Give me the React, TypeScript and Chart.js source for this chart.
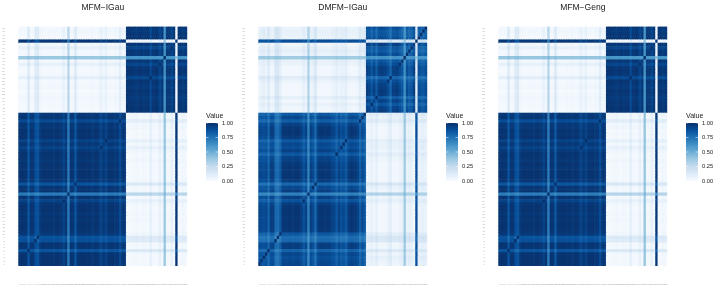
import React, { useEffect, useRef } from "react";
import { Chart, registerables } from "chart.js";

Chart.register(...registerables);

const FONT = "'Liberation Sans', Arial, sans-serif";

const sampleLabels = Array.from({ length: 72 }, (_, i) => String(i + 1));
const firstGroupSize = 46;
const legendTicks = [0, 0.25, 0.5, 0.75, 1];
const blues = ["#F7FBFF", "#DEEBF7", "#C6DBEF", "#9ECAE1", "#6BAED6", "#4292C6", "#2171B5", "#08519C", "#08306B"];

// Estimated share of each sample in the first group, read per row and column of the picture.
const mfmIGau = [
  .99, .995, .995, .99, .87, .99, .99, .89, .88, .975, .99, .995, .995, .985, .995, .98, .995, .995, .985, .935, .99, .72, .99, .985,
  .87, .985, .995, .995, .995, .99, .995, .975, .99, .995, .975, .935, .98, .935, .995, .99, .995, .975, .985, .91, .985, .975,
  .005, .005, .015, .015, .03, .015, .005, .03, .015, .005, .08, .015, .005, .015, .07, .015, .38, .02, .015, .07, .015, .985, .005, .015, .03, .015,
];
const dmfmIGau = [
  .93, .92, .9, .93, .82, .96, .96, .8, .78, .86, .98, .99, .99, .99, .98, .99, .99, .99, .965, .88, .95, .7, .955, .92,
  .8, .965, .99, .99, .98, .99, .98, .95, .94, .86, .95, .9, .92, .86, .965, .99, .99, .98, .95, .84, .92, .86,
  .03, .05, .12, .04, .14, .025, .015, .03, .04, .08, .18, .04, .03, .025, .08, .12, .36, .08, .14, .12, .03, .9, .08, .12, .13, .08,
];
const mfmGeng = [
  .99, .995, .995, .99, .87, .99, .99, .89, .87, .975, .99, .995, .995, .985, .995, .98, .995, .995, .985, .935, .99, .71, .99, .985,
  .86, .985, .995, .995, .995, .985, .995, .975, .99, .995, .97, .935, .98, .935, .995, .985, .995, .975, .98, .9, .985, .975,
  .005, .005, .015, .015, .03, .015, .005, .03, .015, .005, .09, .015, .005, .015, .07, .015, .39, .02, .015, .07, .015, .98, .005, .015, .03, .015,
];
// Tint each sample leaves in the other group's block on the DMFM panel, which is fainter than its share implies.
const dmfmLeak = [
  .03, .05, .07, .03, .12, .02, .02, .13, .14, .08, .01, .01, .01, .01, .01, .01, .01, .01, .02, .07, .03, .3, .03, .05,
  .14, .02, .01, .01, .01, .01, .01, .03, .04, .08, .03, .06, .05, .08, .02, .01, .01, .01, .03, .1, .05, .08,
  .02, .03, .06, .02, .08, .015, .01, .02, .02, .05, .1, .02, .02, .015, .05, .06, .36, .05, .08, .06, .02, .9, .05, .06, .07, .05,
];

const panelTitles = ["MFM\u2212IGau", "DMFM\u2212IGau", "MFM\u2212Geng"];
const panelShares = [mfmIGau, dmfmIGau, mfmGeng];
const panelLeaks = [mfmIGau.map((m, i) => (i < firstGroupSize ? 1 - m : m)), dmfmLeak, mfmGeng.map((m, i) => (i < firstGroupSize ? 1 - m : m))];

function hexToRgb(h: string) {
  return [1, 3, 5].map((i) => parseInt(h.slice(i, i + 2), 16));
}
function fillFor(v: number) {
  const p = Math.min(0.9999, Math.max(0, v)) * (blues.length - 1);
  const i = Math.floor(p);
  const a = hexToRgb(blues[i]);
  const b = hexToRgb(blues[i + 1]);
  const c = a.map((x, k) => Math.round(x + (b[k] - x) * (p - i)));
  return `rgb(${c[0]},${c[1]},${c[2]})`;
}

function cellValue(share: number[], leak: number[], r: number, c: number) {
  const a = share[r];
  const b = share[c];
  if (r === c) {
    const settled = a >= 0.94 || a <= 0.06;
    return settled ? a * a + (1 - a) * (1 - a) : 1;
  }
  if (r < firstGroupSize !== c < firstGroupSize) {
    return leak[r] + leak[c] - 2 * leak[r] * leak[c];
  }
  return a * b + (1 - a) * (1 - b);
}

function makePanel(canvas: HTMLCanvasElement, title: string, share: number[], leak: number[]) {
  const datasets = sampleLabels.map((_, r) => ({
    data: sampleLabels.map(() => [r, r + 1]),
    backgroundColor: sampleLabels.map((_l, c) => fillFor(cellValue(share, leak, r, c))),
    grouped: false,
    barPercentage: 1,
    categoryPercentage: 1,
    borderWidth: 0,
  }));
  return new Chart(canvas, {
    type: "bar",
    data: { labels: sampleLabels, datasets },
    options: {
      responsive: false,
      devicePixelRatio: 1,
      animation: false,
      events: [],
      layout: { padding: { right: 52.7, top: 0, bottom: 0, left: 0 } },
      plugins: {
        legend: { display: false },
        tooltip: { enabled: false },
        title: {
          display: true,
          text: title,
          fullSize: false,
          color: "#1a1a1a",
          font: { family: FONT, size: 8.5, weight: "normal", lineHeight: 1.2 },
          padding: { top: 2.5, bottom: 13.8 },
        },
      },
      scales: {
        x: {
          grid: { display: false, drawTicks: false },
          border: { display: false },
          ticks: {
            autoSkip: false,
            maxRotation: 0,
            minRotation: 0,
            padding: 16.5,
            color: "#a8a8a8",
            font: { family: FONT, size: 2.5 },
          },
          afterFit: (s: any) => {
            s.height = 22;
          },
        },
        y: {
          min: 0,
          max: sampleLabels.length,
          grid: { display: false, drawTicks: false },
          border: { display: false },
          afterBuildTicks: (s: any) => {
            s.ticks = sampleLabels.map((_, i) => ({ value: i + 0.5 }));
          },
          ticks: {
            autoSkip: false,
            padding: 13.3,
            color: "#a8a8a8",
            font: { family: FONT, size: 2.5 },
            callback: (v: any) => sampleLabels[Math.floor(Number(v))],
          },
          afterFit: (s: any) => {
            s.width = 18.3;
          },
        },
      },
    } as any,
  });
}

const legendMarks = {
  id: "legendMarks",
  afterDatasetsDraw(chart: any) {
    const { ctx, chartArea, scales } = chart;
    ctx.save();
    ctx.strokeStyle = "#ffffff";
    ctx.lineWidth = 0.5;
    legendTicks.forEach((t) => {
      const y = scales.y.getPixelForValue(t);
      ctx.beginPath();
      ctx.moveTo(chartArea.left, y);
      ctx.lineTo(chartArea.left + 2.4, y);
      ctx.moveTo(chartArea.right - 2.4, y);
      ctx.lineTo(chartArea.right, y);
      ctx.stroke();
    });
    ctx.restore();
  },
};

function makeLegend(canvas: HTMLCanvasElement) {
  return new Chart(canvas, {
    type: "bar",
    data: {
      labels: ["Value"],
      datasets: [
        {
          data: [[0, 1]],
          barPercentage: 1,
          categoryPercentage: 1,
          borderWidth: 0,
          backgroundColor: (c: any) => {
            const area = c.chart.chartArea;
            if (!area) return blues[4];
            const g = c.chart.ctx.createLinearGradient(0, area.bottom, 0, area.top);
            blues.forEach((b, i) => g.addColorStop(i / (blues.length - 1), b));
            return g;
          },
        },
      ],
    },
    options: {
      responsive: false,
      devicePixelRatio: 1,
      animation: false,
      events: [],
      layout: { padding: { left: 6, right: 0, top: 0, bottom: 9 } },
      plugins: {
        legend: { display: false },
        tooltip: { enabled: false },
        title: {
          display: true,
          text: "Value",
          align: "start",
          fullSize: true,
          color: "#1a1a1a",
          font: { family: FONT, size: 7, weight: "normal", lineHeight: 1.2 },
          padding: { top: 4, bottom: 2.6 },
        },
      },
      scales: {
        x: { display: false },
        y: {
          position: "right",
          min: 0,
          max: 1,
          grid: { display: false, drawTicks: false },
          border: { display: false },
          afterBuildTicks: (s: any) => {
            s.ticks = legendTicks.map((value) => ({ value }));
          },
          ticks: {
            padding: 4,
            color: "#1a1a1a",
            font: { family: FONT, size: 5.7 },
            callback: (v: any) => Number(v).toFixed(2),
          },
          afterFit: (s: any) => {
            s.width = 22;
          },
        },
      },
    } as any,
    plugins: [legendMarks],
  });
}

export default function App() {
  const panels = useRef<(HTMLCanvasElement | null)[]>([]);
  const legends = useRef<(HTMLCanvasElement | null)[]>([]);
  useEffect(() => {
    const charts: Chart[] = [];
    panelTitles.forEach((t, i) => {
      charts.push(makePanel(panels.current[i]!, t, panelShares[i], panelLeaks[i]));
      charts.push(makeLegend(legends.current[i]!));
    });
    return () => charts.forEach((c) => c.destroy());
  }, []);
  return (
    <div style={{ position: "fixed", left: 0, top: 0, width: 720, height: 288, background: "#fff", overflow: "hidden" }}>
      {panelTitles.map((t, i) => (
        <React.Fragment key={t}>
          <canvas
            ref={(el) => {
              panels.current[i] = el;
            }}
            width={240}
            height={288}
            style={{ position: "absolute", left: 240 * i, top: 0, width: 240, height: 288 }}
          />
          <canvas
            ref={(el) => {
              legends.current[i] = el;
            }}
            width={40}
            height={82}
            style={{ position: "absolute", left: 200 + 240 * i, top: 108, width: 40, height: 82 }}
          />
        </React.Fragment>
      ))}
    </div>
  );
}
